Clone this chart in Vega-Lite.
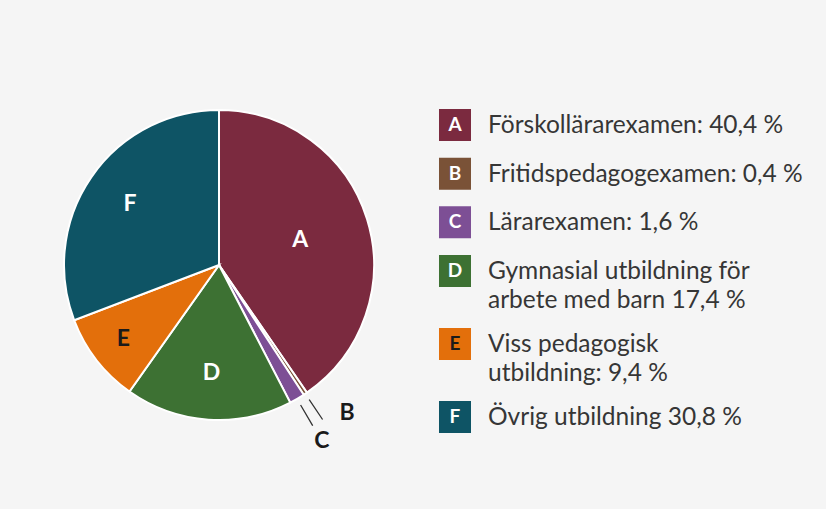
{
  "$schema": "https://vega.github.io/schema/vega-lite/v6.json",
  "background": "#f5f5f5",
  "padding": {"left": 9, "top": 55, "right": 30, "bottom": 40},
  "config": {"view": {"stroke": null}, "font": "Lato", "concat": {"spacing": 9}},
  "data": {
    "values": [
      {"letter": "A", "label": "Förskollärarexamen: 40,4 %", "value": 40.4},
      {"letter": "B", "label": "Fritidspedagogexamen: 0,4 %", "value": 0.4},
      {"letter": "C", "label": "Lärarexamen: 1,6 %", "value": 1.6},
      {"letter": "D", "label": "Gymnasial utbildning för\narbete med barn 17,4 %", "value": 17.4},
      {"letter": "E", "label": "Viss pedagogisk\nutbildning: 9,4 %", "value": 9.4},
      {"letter": "F", "label": "Övrig utbildning 30,8 %", "value": 30.8}
    ]
  },
  "hconcat": [
    {
      "width": 420,
      "height": 420,
      "encoding": {
        "theta": {"field": "value", "type": "quantitative", "stack": true},
        "order": {"field": "letter", "type": "ordinal"},
        "detail": {"field": "letter", "type": "nominal"}
      },
      "layer": [
        {
          "mark": {"type": "arc", "outerRadius": 155, "stroke": "#ffffff", "strokeWidth": 2},
          "encoding": {
            "color": {
              "field": "letter", "type": "nominal", "legend": null,
              "scale": {"domain": ["A", "B", "C", "D", "E", "F"], "range": ["#7b2a3f", "#7a5237", "#7d4f95", "#3d7133", "#e36f0b", "#0e5465"]}
            }
          }
        },
        {
          "mark": {"type": "arc", "outerRadius": 186, "innerRadius": 162, "padAngle": 3, "fill": "transparent", "strokeWidth": 1.3},
          "encoding": {
            "stroke": {"condition": {"test": "datum.letter === 'B' || datum.letter === 'C'", "value": "#333333"}, "value": "transparent"}
          }
        },
        {
          "mark": {"type": "text", "radius": 85, "fontSize": 23, "fontWeight": "bold", "fill": "#ffffff"},
          "encoding": {"text": {"condition": {"test": "datum.letter === 'A'", "field": "letter"}, "value": ""}}
        },
        {
          "mark": {"type": "text", "radius": 108, "fontSize": 23, "fontWeight": "bold", "fill": "#ffffff"},
          "encoding": {"text": {"condition": {"test": "datum.letter === 'D' || datum.letter === 'F'", "field": "letter"}, "value": ""}}
        },
        {
          "mark": {"type": "text", "radius": 121, "fontSize": 23, "fontWeight": "bold", "fill": "#1a1a1a"},
          "encoding": {"text": {"condition": {"test": "datum.letter === 'E'", "field": "letter"}, "value": ""}}
        },
        {
          "mark": {"type": "text", "radius": 204, "fontSize": 23, "fontWeight": "bold", "fill": "#1a1a1a"},
          "encoding": {"text": {"condition": {"test": "datum.letter === 'C'", "field": "letter"}, "value": ""}}
        },
        {
          "mark": {"type": "text", "radius": 196, "dx": 19, "dy": -15, "fontSize": 23, "fontWeight": "bold", "fill": "#1a1a1a"},
          "encoding": {"text": {"condition": {"test": "datum.letter === 'B'", "field": "letter"}, "value": ""}}
        }
      ]
    },
    {
      "width": 67,
      "height": 420,
      "encoding": {
        "y": {
          "field": "letter", "type": "ordinal", "axis": null,
          "scale": {"type": "point", "domain": ["A", "a1", "B", "b1", "C", "c1", "D", "d1", "d2", "E", "e1", "e2", "F"], "range": [70, 362], "padding": 0}
        }
      },
      "layer": [
        {
          "mark": {"type": "point", "shape": "square", "size": 1024, "filled": true, "opacity": 1},
          "encoding": {
            "x": {"datum": "swatch", "type": "nominal", "axis": null, "scale": {"type": "point", "domain": ["swatch", "label"], "padding": 0.515}},
            "color": {
              "field": "letter", "type": "nominal", "legend": null,
              "scale": {"domain": ["A", "B", "C", "D", "E", "F"], "range": ["#7b2a3f", "#7a5237", "#7d4f95", "#3d7133", "#e36f0b", "#0e5465"]}
            }
          }
        },
        {
          "mark": {"type": "text", "fontSize": 19, "fontWeight": "bold"},
          "encoding": {
            "x": {"datum": "swatch", "type": "nominal", "axis": null, "scale": {"type": "point", "domain": ["swatch", "label"], "padding": 0.515}},
            "text": {"field": "letter", "type": "nominal"},
            "color": {"condition": {"test": "datum.letter === 'E'", "value": "#1a1a1a"}, "value": "#ffffff"}
          }
        },
        {
          "mark": {"type": "text", "align": "left", "baseline": "alphabetic", "dy": 8, "fontSize": 24.5, "lineBreak": "\n", "lineHeight": 29, "fill": "#363636"},
          "encoding": {
            "x": {"datum": "label", "type": "nominal", "axis": null, "scale": {"type": "point", "domain": ["swatch", "label"], "padding": 0.515}},
            "text": {"field": "label", "type": "nominal"}
          }
        }
      ]
    }
  ]
}
